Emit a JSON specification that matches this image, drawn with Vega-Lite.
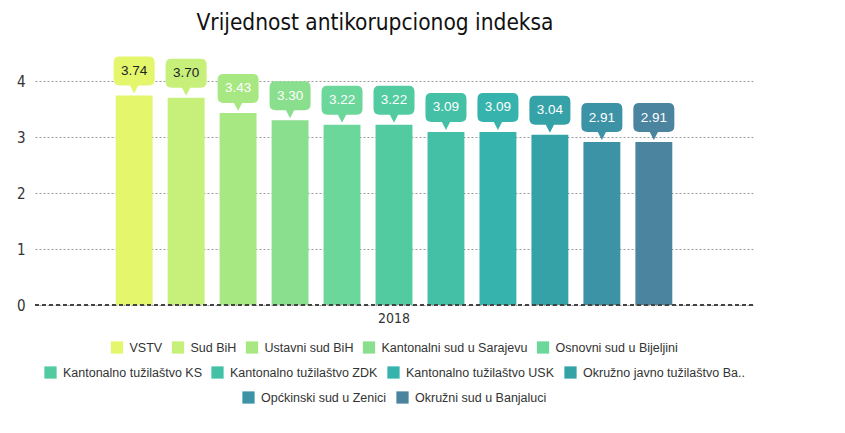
{
  "$schema": "https://vega.github.io/schema/vega-lite/v6.json",
  "width": 718,
  "height": 224,
  "autosize": {"type": "none"},
  "padding": {"left": 35, "top": 81, "right": 92, "bottom": 128},
  "background": "white",
  "title": {
    "text": "Vrijednost antikorupcionog indeksa",
    "font": "Liberation Sans Narrow, DejaVu Sans Condensed, Liberation Sans",
    "fontSize": 22.5,
    "fontWeight": "normal",
    "color": "#111111",
    "dx": -19,
    "offset": 22
  },
  "data": {
    "values": [
      {"year": "2018", "name": "VSTV", "value": 3.74, "grp": 1},
      {"year": "2018", "name": "Sud BiH", "value": 3.70, "grp": 1},
      {"year": "2018", "name": "Ustavni sud BiH", "value": 3.43, "grp": 1},
      {"year": "2018", "name": "Kantonalni sud u Sarajevu", "value": 3.30, "grp": 1},
      {"year": "2018", "name": "Osnovni sud u Bijeljini", "value": 3.22, "grp": 1},
      {"year": "2018", "name": "Kantonalno tužilaštvo KS", "value": 3.22, "grp": 2},
      {"year": "2018", "name": "Kantonalno tužilaštvo ZDK", "value": 3.09, "grp": 2},
      {"year": "2018", "name": "Kantonalno tužilaštvo USK", "value": 3.09, "grp": 2},
      {"year": "2018", "name": "Okružno javno tužilaštvo Ba..", "value": 3.04, "grp": 2},
      {"year": "2018", "name": "Općkinski sud u Zenici", "value": 2.91, "grp": 3},
      {"year": "2018", "name": "Okružni sud u Banjaluci", "value": 2.91, "grp": 3}
    ]
  },
  "layer": [
    {
      "transform": [{"filter": "datum.grp == 1"}],
      "encoding": {
        "x": {"field": "year", "type": "nominal", "scale": {"paddingInner": 0, "paddingOuter": 0.128}, "axis": {"title": null}},
        "xOffset": {"field": "name", "type": "nominal", "scale": {"domain": ["VSTV", "Sud BiH", "Ustavni sud BiH", "Kantonalni sud u Sarajevu", "Osnovni sud u Bijeljini", "Kantonalno tužilaštvo KS", "Kantonalno tužilaštvo ZDK", "Kantonalno tužilaštvo USK", "Okružno javno tužilaštvo Ba..", "Općkinski sud u Zenici", "Okružni sud u Banjaluci"], "paddingInner": 0.29, "paddingOuter": 0.145}},
        "y": {"field": "value", "type": "quantitative", "scale": {"domain": [0, 4]}, "axis": {"title": null, "values": [0, 1, 2, 3, 4], "format": "d"}},
        "color": {"field": "name", "type": "nominal", "scale": {"domain": ["VSTV", "Sud BiH", "Ustavni sud BiH", "Kantonalni sud u Sarajevu", "Osnovni sud u Bijeljini"], "range": ["#e3f66c", "#c6f07a", "#a8e883", "#89df8d", "#6bd79a"]}, "legend": {"title": null}}
      },
      "layer": [
        {"mark": {"type": "bar"}},
        {"mark": {"type": "point", "filled": true, "opacity": 1, "size": 1681, "shape": "M-1,-1.61 Q-1,-1.9 -0.71,-1.9 L0.71,-1.9 Q1,-1.9 1,-1.61 L1,-0.78 Q1,-0.49 0.71,-0.49 L0.2,-0.49 L0,-0.1 L-0.2,-0.49 L-0.71,-0.49 Q-1,-0.49 -1,-0.78 Z"}},
        {"mark": {"type": "text", "dy": -24.5, "fontSize": 13.5, "font": "Liberation Sans", "baseline": "middle"},
         "encoding": {"text": {"field": "value", "type": "quantitative", "format": ".2f"}, "color": {"condition": {"test": "datum.value > 3.6", "value": "#222222"}, "value": "white"}}}
      ]
    },
    {
      "transform": [{"filter": "datum.grp == 2"}],
      "encoding": {
        "x": {"field": "year", "type": "nominal", "scale": {"paddingInner": 0, "paddingOuter": 0.128}, "axis": {"title": null}},
        "xOffset": {"field": "name", "type": "nominal"},
        "y": {"field": "value", "type": "quantitative", "axis": {"title": null, "values": [0, 1, 2, 3, 4], "format": "d"}},
        "color": {"field": "name", "type": "nominal", "scale": {"domain": ["Kantonalno tužilaštvo KS", "Kantonalno tužilaštvo ZDK", "Kantonalno tužilaštvo USK", "Okružno javno tužilaštvo Ba.."], "range": ["#53cba0", "#43c0a6", "#36b3ac", "#35a2a8"]}, "legend": {"title": null}}
      },
      "layer": [
        {"mark": {"type": "bar"}},
        {"mark": {"type": "point", "filled": true, "opacity": 1, "size": 1681, "shape": "M-1,-1.61 Q-1,-1.9 -0.71,-1.9 L0.71,-1.9 Q1,-1.9 1,-1.61 L1,-0.78 Q1,-0.49 0.71,-0.49 L0.2,-0.49 L0,-0.1 L-0.2,-0.49 L-0.71,-0.49 Q-1,-0.49 -1,-0.78 Z"}},
        {"mark": {"type": "text", "dy": -24.5, "fontSize": 13.5, "font": "Liberation Sans", "baseline": "middle"},
         "encoding": {"text": {"field": "value", "type": "quantitative", "format": ".2f"}, "color": {"value": "white"}}}
      ]
    },
    {
      "transform": [{"filter": "datum.grp == 3"}],
      "encoding": {
        "x": {"field": "year", "type": "nominal", "scale": {"paddingInner": 0, "paddingOuter": 0.128}, "axis": {"title": null}},
        "xOffset": {"field": "name", "type": "nominal"},
        "y": {"field": "value", "type": "quantitative", "axis": {"title": null, "values": [0, 1, 2, 3, 4], "format": "d"}},
        "color": {"field": "name", "type": "nominal", "scale": {"domain": ["Općkinski sud u Zenici", "Okružni sud u Banjaluci"], "range": ["#3d93a6", "#4a849e"]}, "legend": {"title": null}}
      },
      "layer": [
        {"mark": {"type": "bar"}},
        {"mark": {"type": "point", "filled": true, "opacity": 1, "size": 1681, "shape": "M-1,-1.61 Q-1,-1.9 -0.71,-1.9 L0.71,-1.9 Q1,-1.9 1,-1.61 L1,-0.78 Q1,-0.49 0.71,-0.49 L0.2,-0.49 L0,-0.1 L-0.2,-0.49 L-0.71,-0.49 Q-1,-0.49 -1,-0.78 Z"}},
        {"mark": {"type": "text", "dy": -24.5, "fontSize": 13.5, "font": "Liberation Sans", "baseline": "middle"},
         "encoding": {"text": {"field": "value", "type": "quantitative", "format": ".2f"}, "color": {"value": "white"}}}
      ]
    },
    {
      "mark": {"type": "rule", "color": "#444444", "strokeDash": [4, 3], "strokeWidth": 1},
      "encoding": {"y": {"datum": 0, "type": "quantitative"}}
    }
  ],
  "resolve": {"scale": {"color": "independent"}, "legend": {"color": "independent"}},
  "config": {
    "view": {"stroke": null},
    "axis": {
      "domain": false,
      "ticks": false,
      "labelFont": "Liberation Sans Narrow, DejaVu Sans Condensed, Liberation Sans",
      "labelColor": "#333333",
      "gridColor": "#9a9a9a",
      "gridDash": [2, 2],
      "gridWidth": 1
    },
    "axisX": {"labelAngle": 0, "labelFontSize": 14, "labelPadding": 6, "grid": false},
    "axisY": {"labelFontSize": 15, "labelPadding": 10},
    "legend": {
      "orient": "bottom",
      "direction": "horizontal",
      "symbolType": "square",
      "symbolSize": 150,
      "symbolStrokeWidth": 0,
      "labelFont": "Liberation Sans",
      "labelFontSize": 12.5,
      "labelColor": "#333333",
      "labelLimit": 300,
      "labelOffset": 6,
      "columnPadding": 9,
      "offset": 16,
      "layout": {"bottom": {"anchor": "middle", "direction": "vertical", "center": true, "margin": 12}}
    }
  }
}
